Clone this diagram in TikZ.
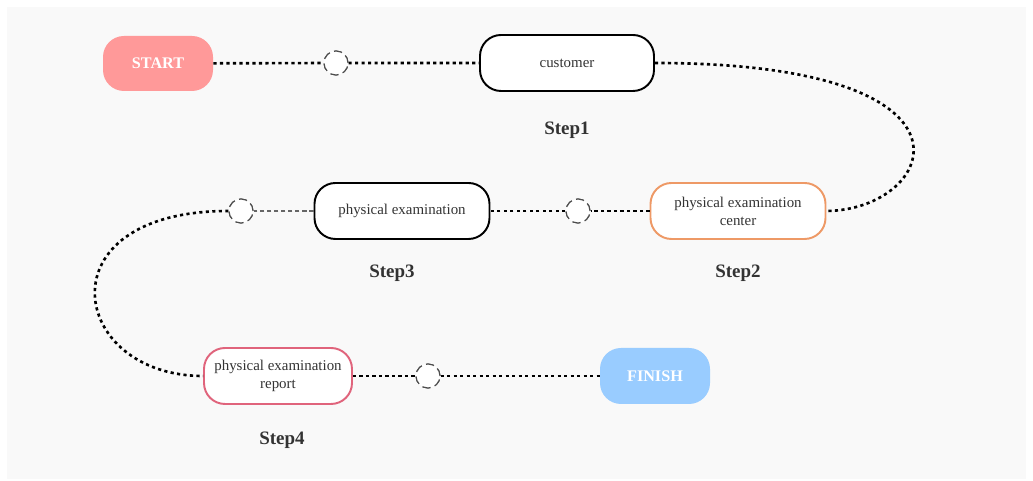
\documentclass[tikz,border=0pt]{standalone}
\usepackage{fontspec}
\setmainfont{Liberation Serif}
\usepackage{xcolor}
\definecolor{panel}{HTML}{F9F9F9}
\definecolor{startred}{HTML}{FF9999}
\definecolor{finishblue}{HTML}{99CCFF}
\definecolor{centerorange}{HTML}{EE9966}
\definecolor{reportred}{HTML}{E0647C}
\definecolor{txt}{HTML}{333333}

\begin{document}
\begin{tikzpicture}[
    endbox/.style={rounded corners=0.42cm, minimum width=2.2cm, minimum height=1.1cm,
        inner sep=0pt, text=white, font=\fontsize{9.2}{10}\selectfont\bfseries},
    stepbox/.style={draw, line width=1.1pt, fill=white, rounded corners=0.42cm,
        minimum width=3.5cm, minimum height=1.12cm, inner sep=0pt, align=center,
        text=txt, font=\fontsize{8.5}{10.2}\selectfont},
    steplabel/.style={text=txt, font=\fontsize{10.8}{12}\selectfont\bfseries},
    knot/.style={circle, draw=black!70, fill=white, line width=0.65pt,
        dash pattern=on 4.6pt off 2.6pt, minimum size=0.48cm, inner sep=0pt},
    dots/.style={line width=1.5pt, dash pattern=on 1.8pt off 1.9pt},
    thindash/.style={draw=black!60, line width=0.6pt, dash pattern=on 2.4pt off 1.6pt}
]
    \fill[white] (0,0) rectangle (20.66,9.62);
    \useasboundingbox (0,0) rectangle (20.66,9.62);
    \fill[panel] (0.14,0.04) rectangle (20.52,9.48);

    \node[endbox, fill=startred] (start) at (3.16,8.35) {START};
    \node[stepbox, minimum width=3.48cm] (customer) at (11.34,8.36) {customer};
    \node[steplabel] (step1) at (11.34,7.02) {Step1};
    \node[stepbox, draw=centerorange] (center) at (14.76,5.40) {physical examination\\center};
    \node[steplabel] (step2) at (14.76,4.16) {Step2};
    \node[stepbox] (exam) at (8.04,5.40) {physical examination};
    \node[steplabel] (step3) at (7.84,4.16) {Step3};
    \node[stepbox, draw=reportred, minimum width=2.96cm] (report) at (5.56,2.10) {physical examination\\report};
    \node[steplabel] (step4) at (5.64,0.82) {Step4};
    \node[endbox, fill=finishblue, minimum height=1.12cm] (finish) at (13.10,2.10) {FINISH};

    \node[knot] (knot1) at (6.72,8.36) {};
    \node[knot] (knot2) at (11.56,5.40) {};
    \node[knot] (knot3) at (4.82,5.40) {};
    \node[knot] (knot4) at (8.56,2.10) {};

    % connectors
    \draw[dots] (start) -- (knot1) -- (customer);
    \draw[dots] (customer.east) .. controls (20.0,8.36) and (18.72,5.42) .. (center.east);
    \draw[dots] (center) -- (knot2) -- (exam);
    \draw[thindash] (exam) -- (knot3);
    \draw[dots] (knot3.west) .. controls (0.8,5.40) and (1.38,2.10) .. (report.west);
    \draw[dots] (report) -- (knot4) -- (finish);

    \node[knot] at (knot1) {};
    \node[knot] at (knot2) {};
    \node[knot] at (knot3) {};
    \node[knot] at (knot4) {};
\end{tikzpicture}
\end{document}
